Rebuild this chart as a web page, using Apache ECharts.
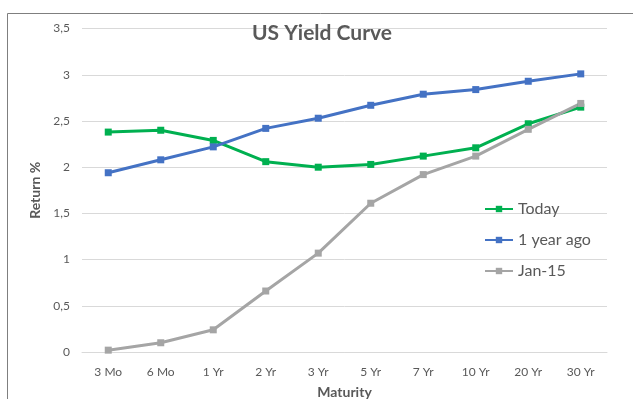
<!DOCTYPE html>
<html>
<head>
<meta charset="utf-8">
<script src="https://cdn.jsdelivr.net/npm/echarts@6/dist/echarts.min.js"></script>
<style>
  html, body { margin: 0; padding: 0; background: #ffffff; }
  #chart { width: 633px; height: 399px; }
</style>
</head>
<body>
<div id="chart"></div>
<script>
// Treasury maturities along the x axis
const maturities = ['3 Mo', '6 Mo', '1 Yr', '2 Yr', '3 Yr', '5 Yr', '7 Yr', '10 Yr', '20 Yr', '30 Yr'];

// Yields (%) for each curve
const today      = [2.38, 2.40, 2.29, 2.06, 2.00, 2.03, 2.12, 2.21, 2.47, 2.65];
const oneYearAgo = [1.94, 2.08, 2.22, 2.42, 2.53, 2.67, 2.79, 2.84, 2.93, 3.01];
const jan15      = [0.02, 0.10, 0.24, 0.66, 1.07, 1.61, 1.92, 2.12, 2.41, 2.69];

const seriesNames = ['Today', '1 year ago', 'Jan-15'];
const seriesColors = ['#00B050', '#4472C4', '#A5A5A5'];

const yTicks = { min: 0, max: 3.5, interval: 0.5 };

const textGray = '#595959';
const gridGray = '#d9d9d9';
const font = 'Lato, "Open Sans", sans-serif';

function lineSeries(name, data, color) {
  return {
    name: name,
    type: 'line',
    data: data,
    symbol: 'rect',
    symbolSize: 7,
    showSymbol: true,
    lineStyle: { width: 3, color: color, join: 'round' },
    itemStyle: { color: color },
    emphasis: { disabled: true },
    animation: false
  };
}

const chart = echarts.init(document.getElementById('chart'), null, { renderer: 'canvas' });

chart.setOption({
  backgroundColor: '#ffffff',
  animation: false,
  title: {
    text: 'US Yield Curve',
    left: 322,
    top: 23,
    padding: 0,
    textAlign: 'center',
    textStyle: { fontFamily: font, fontSize: 21, fontWeight: 'bold', color: textGray }
  },
  graphic: [{
    type: 'polyline',
    shape: { points: [[7.5, 399], [7.5, 13.5], [633, 13.5]] },
    style: { stroke: '#7f7f7f', lineWidth: 1, fill: null },
    silent: true
  }],
  legend: {
    data: seriesNames,
    orient: 'vertical',
    left: 484,
    top: 200,
    padding: 0,
    itemWidth: 28,
    itemHeight: 8,
    itemGap: 13,
    textStyle: { fontFamily: font, fontSize: 16, color: textGray, lineHeight: 18 },
    selectedMode: false
  },
  grid: {
    left: 82, right: 26, top: 28.6, bottom: 47,
    containLabel: false,
    outerBoundsMode: 'none'
  },
  xAxis: {
    type: 'category',
    data: maturities,
    boundaryGap: true,
    name: 'Maturity',
    nameLocation: 'middle',
    nameGap: 33,
    nameTextStyle: { fontFamily: font, fontSize: 14, fontWeight: 'bold', color: textGray },
    axisLine: { lineStyle: { color: gridGray, width: 1 } },
    axisTick: { show: false },
    axisLabel: { fontFamily: font, fontSize: 12, color: textGray, margin: 14 },
    splitLine: { show: false }
  },
  yAxis: {
    type: 'value',
    min: yTicks.min,
    max: yTicks.max,
    interval: yTicks.interval,
    name: 'Return %',
    nameLocation: 'middle',
    nameRotate: 90,
    nameGap: 29,
    nameTextStyle: { fontFamily: font, fontSize: 14, fontWeight: 'bold', color: textGray },
    axisLine: { show: false },
    axisTick: { show: false },
    axisLabel: {
      fontFamily: font, fontSize: 12, color: textGray, margin: 12,
      formatter: v => String(v).replace('.', ',')
    },
    splitLine: { lineStyle: { color: gridGray, width: 1 } }
  },
  series: [
    lineSeries(seriesNames[0], today, seriesColors[0]),
    lineSeries(seriesNames[1], oneYearAgo, seriesColors[1]),
    lineSeries(seriesNames[2], jan15, seriesColors[2])
  ]
});
</script>
</body>
</html>
